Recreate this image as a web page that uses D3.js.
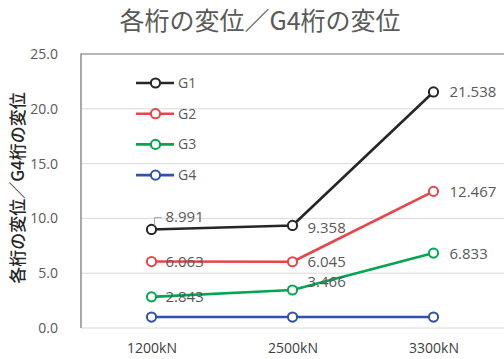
<!DOCTYPE html>
<html>
<head>
<meta charset="utf-8">
<script src="https://cdn.jsdelivr.net/npm/d3@7"></script>
<style>
  html, body { margin: 0; padding: 0; background: #fff; }
  svg { display: block; font-family: "Open Sans", "Noto Sans CJK JP", sans-serif; }
</style>
</head>
<body>
<svg id="chart" width="504" height="359"></svg>
<script>
// Displacement ratios of each girder relative to girder G4
const categories = ["1200kN", "2500kN", "3300kN"];
const seriesNames = ["G1", "G2", "G3", "G4"];
const g1 = [8.991, 9.358, 21.538];
const g2 = [6.063, 6.045, 12.467];
const g3 = [2.843, 3.466, 6.833];
const g4 = [1.0, 1.0, 1.0];
const yTicks = [0, 5, 10, 15, 20, 25];
const titleText = "各桁の変位／G4桁の変位";
const yTitle = "各桁の変位／G4桁の変位";

const colors = ["#262626", "#e9444a", "#00a651", "#2f52a8"];
const series = [g1, g2, g3, g4].map((v, i) => ({ name: seriesNames[i], values: v, color: colors[i] }));

const svg = d3.select("#chart");
const margin = { left: 81, right: 0, top: 54, bottom: 31 };
const W = 504, H = 359;

const x = d3.scalePoint().domain(categories).range([margin.left, W - margin.right]).padding(0.5);
const y = d3.scaleLinear().domain([0, 25]).range([328, 54]);

// Title
svg.append("text")
  .attr("x", 260).attr("y", 30)
  .attr("text-anchor", "middle")
  .attr("font-family", "'Noto Sans CJK JP', sans-serif")
  .attr("font-size", 25)
  .attr("fill", "#595959")
  .text(titleText);

// Gridlines
svg.append("g")
  .selectAll("line")
  .data(yTicks.filter(t => t < 25))
  .join("line")
  .attr("x1", margin.left).attr("x2", W)
  .attr("y1", d => y(d)).attr("y2", d => y(d))
  .attr("stroke", "#d9d9d9").attr("stroke-width", 1);

// Frame: left axis and top border
svg.append("path")
  .attr("d", `M${margin.left},${y(0)}V${y(25)}H${W}`)
  .attr("fill", "none").attr("stroke", "#6f6f6f").attr("stroke-width", 1.2);

// Y axis tick labels
const yAxis = d3.axisLeft(y).tickValues(yTicks).tickFormat(d3.format(".1f")).tickSize(0).tickPadding(23);
const yg = svg.append("g").attr("transform", `translate(${margin.left},0)`).call(yAxis);
yg.select(".domain").remove();
yg.selectAll("text").attr("font-size", 14).attr("fill", "#595959")
  .attr("font-family", "'Open Sans', sans-serif");

// X axis tick labels
const xAxis = d3.axisBottom(x).tickSize(0).tickPadding(15);
const xg = svg.append("g").attr("transform", `translate(0,${y(0)})`).call(xAxis);
xg.select(".domain").remove();
xg.selectAll("text").attr("font-size", 14).attr("fill", "#404040")
  .attr("font-family", "'Open Sans', sans-serif");

// Y axis title
svg.append("text")
  .attr("transform", `translate(24,188) rotate(-90)`)
  .attr("text-anchor", "middle")
  .attr("font-family", "'Noto Sans CJK JP', sans-serif")
  .attr("font-size", 17)
  .attr("font-weight", 500)
  .attr("fill", "#262626")
  .text(yTitle);

// Lines
const line = d3.line().x((d, i) => x(categories[i])).y(d => y(d));
const sg = svg.append("g");
series.forEach(s => {
  sg.append("path").datum(s.values)
    .attr("d", line)
    .attr("fill", "none").attr("stroke", s.color).attr("stroke-width", 2.6)
    .attr("stroke-linejoin", "round");
});

// Leader line for the first G1 label
const p0x = x(categories[0]), p0y = y(g1[0]);
svg.append("path")
  .attr("d", `M${p0x + 3},${p0y - 4}L${p0x + 3},${p0y - 12}H${p0x + 10}`)
  .attr("fill", "none").attr("stroke", "#a6a6a6").attr("stroke-width", 1);

// Markers
series.forEach(s => {
  sg.append("g").selectAll("circle")
    .data(s.values)
    .join("circle")
    .attr("cx", (d, i) => x(categories[i]))
    .attr("cy", d => y(d))
    .attr("r", 4.6)
    .attr("fill", "#fff").attr("stroke", s.color).attr("stroke-width", 2);
});

// Data labels (G1–G3); per-label offsets keep them clear of the lines
const labelOffsets = {
  G1: [[14, -13], [15, 2], [16, 0]],
  G2: [[14, 0], [15, 0], [16, 0]],
  G3: [[14, 0], [15, -8], [16, 0]]
};
series.slice(0, 3).forEach(s => {
  svg.append("g").selectAll("text")
    .data(s.values)
    .join("text")
    .attr("x", (d, i) => x(categories[i]) + labelOffsets[s.name][i][0])
    .attr("y", (d, i) => y(d) + labelOffsets[s.name][i][1])
    .attr("dy", "0.36em")
    .attr("font-size", 15)
    .attr("fill", "#595959")
    .text(d => d3.format(".3f")(d));
});

// Legend
const legend = svg.append("g");
series.forEach((s, i) => {
  const ly = 83 + i * 30.7;
  legend.append("line").attr("x1", 136).attr("x2", 174).attr("y1", ly).attr("y2", ly)
    .attr("stroke", s.color).attr("stroke-width", 2.6);
  legend.append("circle").attr("cx", 155.5).attr("cy", ly).attr("r", 4.6)
    .attr("fill", "#fff").attr("stroke", s.color).attr("stroke-width", 2);
  legend.append("text").attr("x", 178).attr("y", ly).attr("dy", "0.36em")
    .attr("font-size", 14).attr("fill", "#595959").text(s.name);
});
</script>
</body>
</html>
